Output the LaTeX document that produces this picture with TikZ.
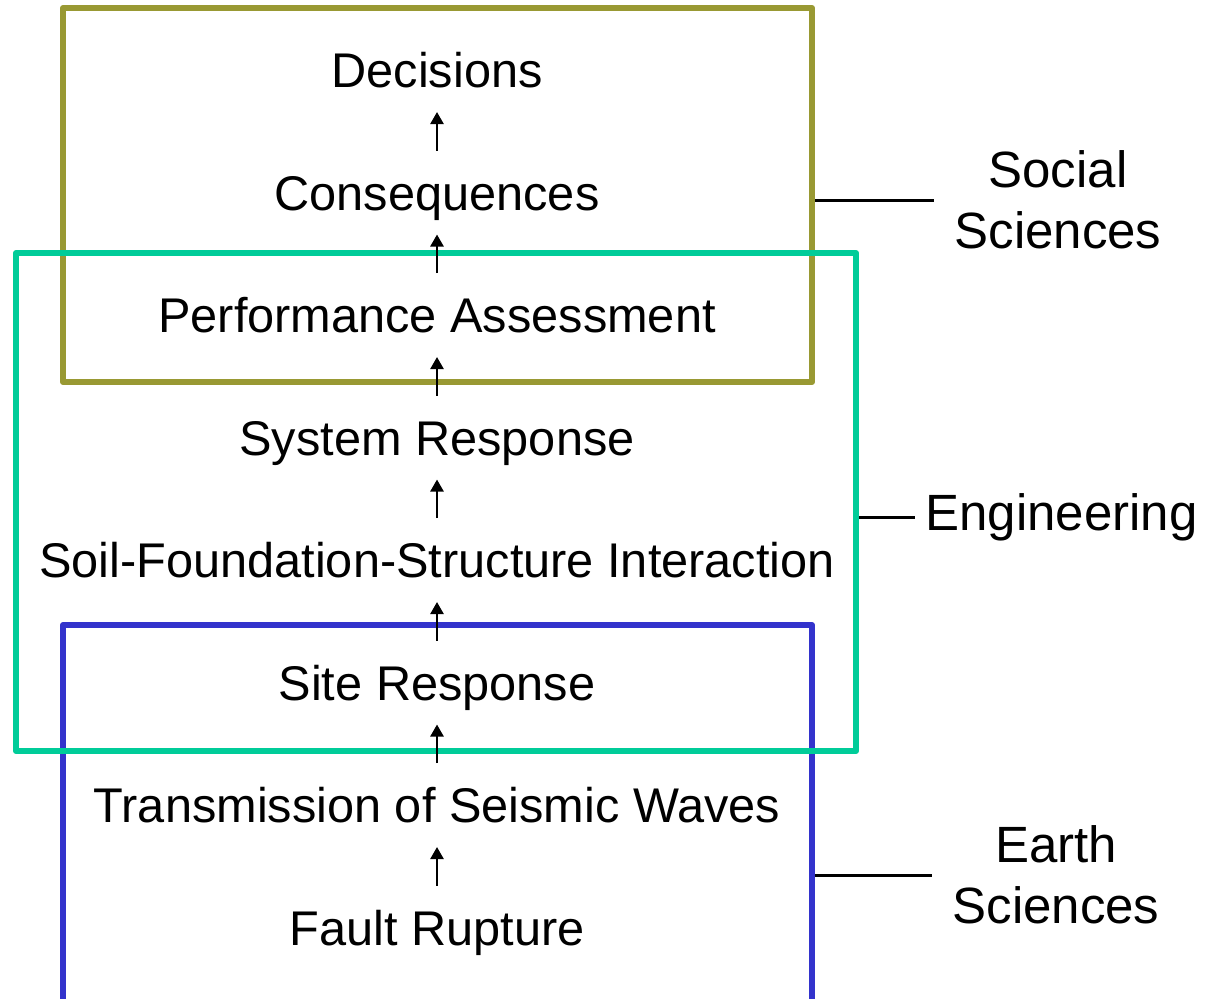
\documentclass[tikz,border=0pt]{standalone}
\usepackage{fontspec}
\setmainfont{Liberation Sans}
\usetikzlibrary{arrows.meta}
\definecolor{socialcol}{RGB}{153,153,51}
\definecolor{engcol}{RGB}{0,204,153}
\definecolor{earthcol}{RGB}{51,51,204}
\begin{document}
\begin{tikzpicture}[x=0.5pt, y=-0.5pt, line join=round, >={Triangle[length=6pt,width=6.5pt]},
	row/.style={anchor=south, inner sep=0pt, text height=17.5pt, text depth=0pt, font=\fontsize{24.35}{29}\selectfont},
	field/.style={align=center, inner sep=0pt, font=\fontsize{25.5}{30.5}\selectfont},
	area/.style={line width=3pt, inner sep=0pt}]
	\useasboundingbox (0,0) rectangle (1205,998);
	\clip (0,0) rectangle (1205,998);
	% the three fields
	\node[area, draw=socialcol, minimum width=374.5pt, minimum height=187pt] (socialbox) at (437.5,195) {};
	\node[area, draw=earthcol, minimum width=374.5pt, minimum height=197.5pt] (earthbox) at (437.5,822.5) {};
	\node[area, draw=engcol, minimum width=420pt, minimum height=249pt] (engbox) at (436,502) {};
	% chain, top to bottom
	\foreach \t [count=\i] in {Decisions, Consequences, Performance Assessment, System Response, Soil-Foundation-Structure Interaction, Site Response, Transmission of Seismic Waves, Fault Rupture}
		\node[row] (r\i) at (437,{88+122.5*(\i-1)}) {\t};
	\foreach \i in {1,...,7} {
		\pgfmathtruncatemacro\j{\i+1}
		\draw[->, line width=1.2pt, shorten <=12pt, shorten >=12pt] (r\j) -- (r\i);
	}
	% labels
	\node[field] (social) at (1058,200) {Social\\Sciences};
	\node[field, anchor=west] (eng) at (925,517) {Engineering};
	\node[field] (earth) at (1056,875) {Earth\\Sciences};
	\draw[line width=1.5pt, shorten >=10pt] (socialbox.east |- social.west) -- (social.west);
	\draw[line width=1.5pt, shorten >=5pt] (engbox.east |- eng.west) -- (eng.west);
	\draw[line width=1.5pt, shorten >=10pt] (earthbox.east |- earth.west) -- (earth.west);
\end{tikzpicture}
\end{document}
